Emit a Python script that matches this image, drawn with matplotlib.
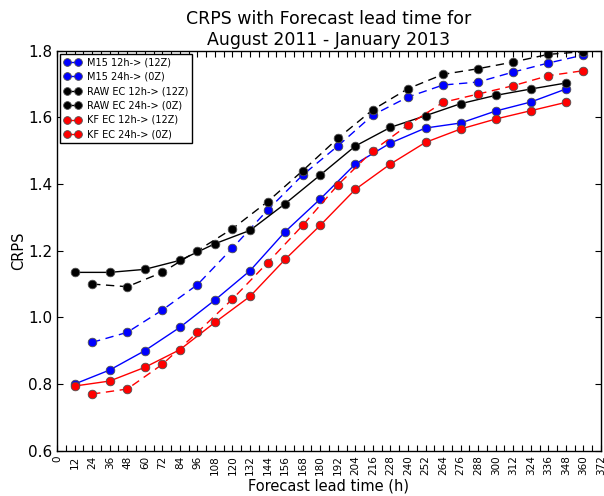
import matplotlib
matplotlib.use("Agg")
import matplotlib.pyplot as plt
import numpy as np

lead_12z = [12, 36, 60, 84, 108, 132, 156, 180, 204, 228, 252, 276, 300, 324, 348]
lead_0z = [24, 48, 72, 96, 120, 144, 168, 192, 216, 240, 264, 288, 312, 336, 360]

m15_12z = [0.800, 0.842, 0.900, 0.970, 1.052, 1.140, 1.257, 1.355, 1.460, 1.523, 1.568, 1.583, 1.619, 1.646, 1.685]
m15_0z = [0.925, 0.955, 1.022, 1.098, 1.208, 1.322, 1.427, 1.514, 1.607, 1.661, 1.697, 1.706, 1.736, 1.763, 1.787]
raw_12z = [1.135, 1.135, 1.144, 1.171, 1.221, 1.261, 1.341, 1.427, 1.514, 1.570, 1.605, 1.641, 1.666, 1.685, 1.703]
raw_0z = [1.100, 1.092, 1.135, 1.200, 1.266, 1.347, 1.440, 1.537, 1.623, 1.686, 1.729, 1.746, 1.766, 1.789, 1.797]
kf_12z = [0.794, 0.809, 0.850, 0.903, 0.985, 1.063, 1.174, 1.276, 1.384, 1.460, 1.525, 1.565, 1.595, 1.620, 1.645]
kf_0z = [0.770, 0.785, 0.859, 0.955, 1.055, 1.164, 1.276, 1.397, 1.500, 1.577, 1.645, 1.670, 1.695, 1.725, 1.740]

labels = ["M15 12h-> (12Z)", "M15 24h-> (0Z)", "RAW EC 12h-> (12Z)",
          "RAW EC 24h-> (0Z)", "KF EC 12h-> (12Z)", "KF EC 24h-> (0Z)"]
xticks = list(range(0, 373, 12))

fig = plt.figure(figsize=(6.04, 4.96), dpi=100)
ax = fig.add_axes([0.0944, 0.0913, 0.9006, 0.8065])

series = [
    (lead_12z, m15_12z, "blue", "-"),
    (lead_0z, m15_0z, "blue", "--"),
    (lead_12z, raw_12z, "black", "-"),
    (lead_0z, raw_0z, "black", "--"),
    (lead_12z, kf_12z, "red", "-"),
    (lead_0z, kf_0z, "red", "--"),
]
for (x, y, c, ls), lab in zip(series, labels):
    ax.plot(x, y, color=c, linestyle=ls, linewidth=1.0, marker="o",
            markersize=6.2, markerfacecolor=c, markeredgecolor="#505050",
            markeredgewidth=0.6, label=lab, dashes=(6, 4) if ls == "--" else (None, None))

ax.set_xlim(0, 372)
ax.set_ylim(0.6, 1.8)
ax.set_xticks(xticks)
ax.set_xticklabels([str(t) for t in xticks], rotation=90, fontsize=7.5)
ax.set_xticks(list(range(6, 373, 12)), minor=True)
ax.set_yticks([0.6, 0.8, 1.0, 1.2, 1.4, 1.6, 1.8])
ax.set_yticklabels(["0.6", "0.8", "1.0", "1.2", "1.4", "1.6", "1.8"], fontsize=11)
ax.tick_params(which="both", direction="in", top=True, right=True, length=4, width=0.8)
for s in ax.spines.values():
    s.set_linewidth(1.0)

ax.set_xlabel("Forecast lead time (h)", fontsize=10.5, labelpad=2)
ax.set_ylabel("CRPS", fontsize=10.5, labelpad=1)
ax.set_title("CRPS with Forecast lead time for\nAugust 2011 - January 2013", fontsize=12.5, pad=4)

leg = ax.legend(loc="upper left", fontsize=7.0, numpoints=2, fancybox=False,
                edgecolor="black", framealpha=1, borderpad=0.4, labelspacing=0.45,
                handlelength=1.8, handletextpad=0.6, borderaxespad=0.3, markerscale=0.9)
leg.get_frame().set_linewidth(1.0)

fig.savefig("out.png", dpi=100)
